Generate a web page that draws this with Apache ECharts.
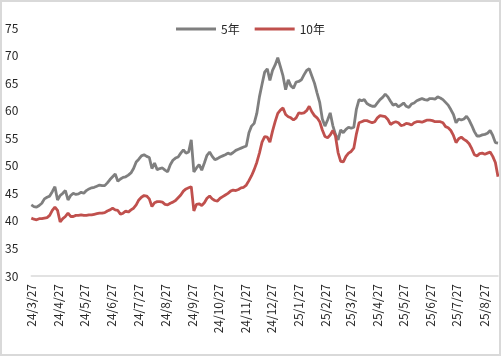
<!DOCTYPE html>
<html>
<head>
<meta charset="utf-8">
<script src="https://cdn.jsdelivr.net/npm/echarts@6/dist/echarts.min.js"></script>
<style>
html,body{margin:0;padding:0;background:#fff;}
#c{width:501px;height:356px;box-sizing:border-box;border:2px solid #d9d9d9;}
</style>
</head>
<body>
<div id="c"></div>
<script>
// Axis range (calendar days) and sampling step of the read values
const startDate = '2024-03-27';
const endDate = '2025-09-12';
const sampleStepDays = 3;
const seriesNames = ['5年', '10年'];
const yTicks = [30, 35, 40, 45, 50, 55, 60, 65, 70, 75];

// Values, one every 3 calendar days from startDate
const y5 = [
42.9,42.6,42.5,42.8,43.2,44.0,44.3,44.5,45.3,46.2,43.8,44.6,45.0,45.5,43.8,44.6,45.0,44.8,44.9,45.2,
45.0,45.5,45.8,46.0,46.1,46.3,46.5,46.4,46.4,46.9,47.5,48.0,48.5,47.2,47.6,47.9,48.0,48.3,48.7,49.5,
50.7,51.2,51.8,52.0,51.7,51.5,49.5,50.5,49.3,49.5,49.6,49.2,48.9,50.2,51.0,51.4,51.6,52.3,52.9,52.3,
52.5,54.7,48.9,49.6,50.2,49.2,50.5,51.9,52.5,51.7,51.1,51.3,51.6,51.8,52.0,52.3,52.1,52.4,52.8,53.0,
53.2,53.4,53.6,56.0,57.2,57.7,59.5,62.5,64.8,67.0,67.6,65.5,67.3,68.3,69.6,68.0,66.3,63.8,65.6,64.5,
64.1,65.2,65.3,65.6,66.5,67.3,67.6,66.3,65.0,63.2,61.5,58.5,57.2,58.3,59.6,57.3,55.7,54.7,56.5,56.0,
56.6,57.0,56.8,57.0,60.3,62.0,61.8,62.0,61.3,61.0,60.8,60.8,61.4,62.0,62.4,63.0,62.5,61.7,61.0,61.2,
60.7,61.0,61.4,60.8,60.6,61.2,61.4,61.8,62.0,62.2,62.0,61.9,62.2,62.2,62.1,62.5,62.3,62.0,61.5,61.0,
60.2,59.3,57.8,58.5,58.3,58.5,59.0,58.3,57.3,56.2,55.4,55.4,55.6,55.7,55.9,56.4,55.5,54.2,54.1
];
const y10 = [
40.5,40.3,40.2,40.4,40.4,40.5,40.6,41.0,41.9,42.5,41.9,39.8,40.4,40.8,41.4,40.8,40.8,41.0,41.0,41.1,
41.0,41.0,41.1,41.1,41.2,41.3,41.4,41.4,41.5,41.8,42.0,42.3,42.0,41.9,41.2,41.4,41.8,41.6,42.0,42.3,
42.9,43.8,44.3,44.6,44.5,44.0,42.6,43.3,43.5,43.5,43.4,43.0,42.9,43.2,43.4,43.7,44.2,44.7,45.4,45.8,
46.0,46.2,41.8,43.0,43.1,42.8,43.3,44.1,44.5,44.0,43.7,43.6,44.1,44.4,44.7,45.0,45.4,45.6,45.5,45.7,
46.0,46.1,46.5,47.3,48.2,49.3,50.6,52.3,54.3,55.3,55.2,54.3,56.3,58.0,59.5,60.1,60.5,59.3,58.9,58.7,
58.3,58.7,59.6,59.5,59.6,60.0,60.8,59.8,59.1,58.7,58.0,56.5,55.3,55.1,55.6,56.4,55.4,52.4,50.8,50.7,
51.7,52.3,52.6,53.2,55.8,57.8,58.0,58.2,58.2,58.0,57.8,58.0,58.7,59.1,59.0,58.9,58.4,57.5,57.8,58.0,
57.8,57.3,57.4,57.7,57.6,57.4,57.8,58.0,58.0,57.9,58.1,58.3,58.3,58.2,58.0,58.0,58.0,57.8,57.1,56.9,
56.4,55.5,54.2,54.9,55.2,54.8,54.5,54.0,53.1,52.0,51.8,52.2,52.3,52.1,52.3,52.5,51.7,50.6,48.0
];

// Build calendar-day categories
const cats = [];
(function(){
  const d = new Date(startDate + 'T00:00:00Z');
  const e = new Date(endDate + 'T00:00:00Z');
  while (d <= e) {
    cats.push(d.getUTCFullYear() + '-' + (d.getUTCMonth()+1) + '-' + d.getUTCDate());
    d.setUTCDate(d.getUTCDate() + 1);
  }
})();
function spread(vals){
  const out = new Array(cats.length).fill(null);
  vals.forEach((v,i)=>{ const idx=i*sampleStepDays; if (idx<cats.length) out[idx]=v; });
  return out;
}

const chart = echarts.init(document.getElementById('c'));
const txt = '#262626';
chart.setOption({
  animation:false,
  textStyle:{fontFamily:'"Noto Sans CJK SC","Noto Sans",sans-serif'},
  legend:{
    top:16, left:'center',
    icon:'rect', itemWidth:40, itemHeight:3, itemGap:15,
    textStyle:{fontSize:12,color:txt,fontFamily:'"Noto Sans CJK SC",sans-serif'},
    data:seriesNames
  },
  grid:{left:29,right:1,top:26,bottom:78},
  xAxis:{
    type:'category', data:cats, boundaryGap:false,
    axisLine:{lineStyle:{color:'#d9d9d9',width:1.5}},
    axisTick:{show:false},
    axisLabel:{
      rotate:90, fontSize:12, color:txt, margin:8,
      interval:function(i,v){ return v.split('-')[2]==='27'; },
      formatter:function(v){ const p=v.split('-'); return p[0].slice(2)+'/'+p[1]+'/'+p[2]; }
    }
  },
  yAxis:{
    type:'value', min:yTicks[0], max:yTicks[yTicks.length-1], interval:5,
    splitLine:{show:false}, axisLine:{show:false}, axisTick:{show:false},
    axisLabel:{fontSize:12,color:txt,margin:13}
  },
  series:[
    {name:seriesNames[0],type:'line',data:spread(y5),connectNulls:true,showSymbol:false,symbol:'none',
     lineStyle:{color:'#7f7f7f',width:2.8},itemStyle:{color:'#7f7f7f'}},
    {name:seriesNames[1],type:'line',data:spread(y10),connectNulls:true,showSymbol:false,symbol:'none',
     lineStyle:{color:'#c0504d',width:2.8},itemStyle:{color:'#c0504d'}}
  ]
});
</script>
</body>
</html>
